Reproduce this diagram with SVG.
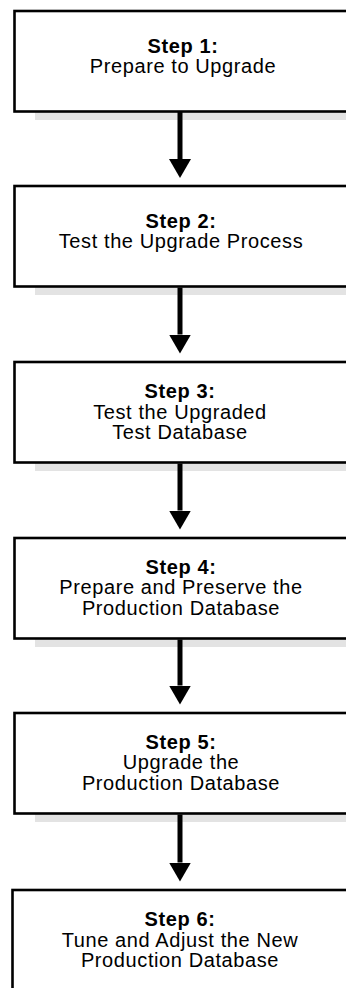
<svg xmlns="http://www.w3.org/2000/svg" width="346" height="988" viewBox="0 0 346 988">
<style>
.box{fill:#ffffff;stroke:#000000;stroke-width:2.6}
.shadow{fill:#e3e3e3;stroke:none}
.t{font-family:"Liberation Sans",Arial,Helvetica,sans-serif;font-size:20px;fill:#000000;text-anchor:middle;letter-spacing:0.6px}
.b{font-weight:bold}
.conn{stroke:#000000;stroke-width:5;fill:none}
</style>
<defs>
<marker id="ah" viewBox="0 0 19 22" markerWidth="19" markerHeight="22" refX="0" refY="11" orient="auto" markerUnits="userSpaceOnUse">
<path d="M0,0 L19,11 L0,22 Z" fill="#000000"/>
</marker>
</defs>
<rect width="346" height="988" fill="#ffffff"/>
<g id="shadows">
<rect class="shadow" x="35" y="19.5" width="330" height="100.5"/>
<rect class="shadow" x="35" y="194.5" width="330" height="100.5"/>
<rect class="shadow" x="35" y="370.5" width="330" height="100.5"/>
<rect class="shadow" x="35" y="546.5" width="330" height="100.5"/>
<rect class="shadow" x="35" y="721.5" width="330" height="100.5"/>
</g>
<g id="step1">
<rect class="box" x="14.5" y="11" width="345" height="100.5"/>
<text class="t b" x="183" y="52.5">Step 1:</text>
<text class="t" x="183" y="72.5">Prepare to Upgrade</text>
</g>
<g id="step2">
<rect class="box" x="14.5" y="186" width="345" height="100.5"/>
<text class="t b" x="181" y="228">Step 2:</text>
<text class="t" x="181" y="248">Test the Upgrade Process</text>
</g>
<g id="step3">
<rect class="box" x="14.5" y="362" width="345" height="100.5"/>
<text class="t b" x="180" y="398">Step 3:</text>
<text class="t" x="180" y="418.5">Test the Upgraded</text>
<text class="t" x="180" y="439">Test Database</text>
</g>
<g id="step4">
<rect class="box" x="14.5" y="538" width="345" height="100.5"/>
<text class="t b" x="181" y="573.5">Step 4:</text>
<text class="t" x="181" y="594">Prepare and Preserve the</text>
<text class="t" x="181" y="614.5">Production Database</text>
</g>
<g id="step5">
<rect class="box" x="14.5" y="713" width="345" height="100.5"/>
<text class="t b" x="181" y="748.5">Step 5:</text>
<text class="t" x="181" y="769">Upgrade the</text>
<text class="t" x="181" y="789.5">Production Database</text>
</g>
<g id="step6">
<rect class="box" x="12.5" y="890" width="345" height="100.5"/>
<text class="t b" x="180" y="926">Step 6:</text>
<text class="t" x="180" y="946.5">Tune and Adjust the New</text>
<text class="t" x="180" y="967">Production Database</text>
</g>
<g id="connectors">
<line class="conn" x1="180" y1="112" x2="180" y2="159" marker-end="url(#ah)"/>
<line class="conn" x1="180" y1="287.5" x2="180" y2="334.5" marker-end="url(#ah)"/>
<line class="conn" x1="180" y1="463.5" x2="180" y2="510.5" marker-end="url(#ah)"/>
<line class="conn" x1="180" y1="639.5" x2="180" y2="685.5" marker-end="url(#ah)"/>
<line class="conn" x1="180" y1="814.5" x2="180" y2="862.5" marker-end="url(#ah)"/>
</g>
</svg>
